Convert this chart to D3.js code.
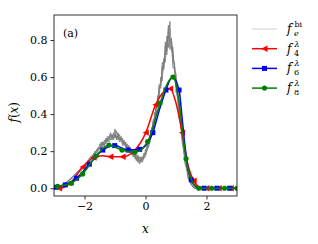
<!DOCTYPE html>
<html>
<head>
<meta charset="utf-8">
<script src="https://cdn.jsdelivr.net/npm/d3@7"></script>
<style>
  body { margin: 0; background: #fff; }
  svg text { font-family: "DejaVu Serif", "Liberation Serif", serif; fill: #000; }
</style>
</head>
<body>
<div id="chart"></div>
<script>
// gray ensemble f_e^bi
var grayX = [-3, -2.8, -2.6, -2.4, -2.2,
  -2.0, -1.95, -1.9, -1.85, -1.8, -1.75, -1.7, -1.65, -1.6, -1.55,
  -1.5, -1.45, -1.4, -1.35, -1.3, -1.25, -1.2, -1.15, -1.1, -1.05,
  -1.0, -0.95, -0.9, -0.85, -0.8, -0.75, -0.7, -0.65, -0.6, -0.55,
  -0.5, -0.45, -0.4, -0.35, -0.3, -0.25, -0.2, -0.15, -0.1, -0.05,
  0.0, 0.05, 0.1, 0.15, 0.2, 0.25, 0.3, 0.35, 0.4, 0.45,
  0.5, 0.55, 0.6, 0.65, 0.7, 0.75, 0.8, 0.85, 0.9, 0.95,
  1.0, 1.05, 1.1, 1.15, 1.2, 1.25, 1.3, 1.35, 1.4, 1.45,
  1.5, 1.55, 1.6, 1.8, 3.0];
var gray1 = [0.0, 0.01, 0.03, 0.06, 0.09,
  0.12, 0.14, 0.13, 0.16, 0.15, 0.18, 0.17, 0.20, 0.19, 0.22,
  0.21, 0.25, 0.22, 0.26, 0.24, 0.27, 0.25, 0.29, 0.26, 0.30,
  0.27, 0.31, 0.26, 0.29, 0.25, 0.27, 0.23, 0.25, 0.21, 0.23,
  0.19, 0.21, 0.17, 0.19, 0.15, 0.18, 0.14, 0.17, 0.15, 0.19,
  0.18, 0.23, 0.22, 0.29, 0.29, 0.37, 0.37, 0.45, 0.45, 0.55,
  0.54, 0.66, 0.64, 0.77, 0.74, 0.88, 0.78, 0.81, 0.68, 0.68,
  0.55, 0.52, 0.40, 0.37, 0.27, 0.23, 0.14, 0.12, 0.06, 0.05,
  0.02, 0.01, 0.0, 0.0, 0.0];
var gray2 = [0.0, 0.012, 0.028, 0.055, 0.085,
  0.11, 0.12, 0.15, 0.14, 0.17, 0.16, 0.19, 0.18, 0.21, 0.20,
  0.24, 0.22, 0.25, 0.23, 0.27, 0.25, 0.28, 0.26, 0.29, 0.27,
  0.32, 0.26, 0.29, 0.25, 0.28, 0.24, 0.26, 0.22, 0.24, 0.20,
  0.22, 0.18, 0.20, 0.16, 0.18, 0.14, 0.17, 0.14, 0.17, 0.16,
  0.21, 0.20, 0.26, 0.25, 0.33, 0.32, 0.41, 0.40, 0.50, 0.49,
  0.60, 0.58, 0.70, 0.68, 0.82, 0.76, 0.90, 0.74, 0.76, 0.63,
  0.62, 0.50, 0.47, 0.36, 0.33, 0.22, 0.19, 0.10, 0.09, 0.04,
  0.03, 0.01, 0.0, 0.0, 0.0];
var gray3 = [0.0, 0.01, 0.032, 0.06, 0.095,
  0.13, 0.12, 0.14, 0.15, 0.15, 0.17, 0.18, 0.19, 0.20, 0.21,
  0.22, 0.23, 0.24, 0.23, 0.26, 0.26, 0.27, 0.28, 0.27, 0.29,
  0.28, 0.28, 0.27, 0.27, 0.26, 0.25, 0.24, 0.24, 0.22, 0.22,
  0.20, 0.20, 0.18, 0.18, 0.16, 0.16, 0.15, 0.16, 0.16, 0.18,
  0.19, 0.22, 0.24, 0.27, 0.30, 0.34, 0.38, 0.43, 0.47, 0.53,
  0.57, 0.63, 0.67, 0.73, 0.77, 0.82, 0.80, 0.80, 0.72, 0.66,
  0.58, 0.50, 0.43, 0.35, 0.29, 0.21, 0.16, 0.11, 0.07, 0.04,
  0.02, 0.01, 0.0, 0.0, 0.0];
var gray4 = [0.0, 0.011, 0.03, 0.058, 0.09,
  0.12, 0.13, 0.13, 0.15, 0.17, 0.16, 0.18, 0.20, 0.19, 0.22,
  0.21, 0.23, 0.25, 0.24, 0.25, 0.28, 0.27, 0.30, 0.28, 0.26,
  0.29, 0.27, 0.30, 0.26, 0.27, 0.23, 0.25, 0.23, 0.21, 0.23,
  0.19, 0.21, 0.17, 0.19, 0.15, 0.17, 0.13, 0.15, 0.14, 0.17,
  0.17, 0.21, 0.22, 0.28, 0.28, 0.36, 0.36, 0.46, 0.45, 0.56,
  0.55, 0.68, 0.65, 0.79, 0.72, 0.86, 0.75, 0.79, 0.65, 0.65,
  0.52, 0.49, 0.38, 0.35, 0.25, 0.20, 0.13, 0.10, 0.05, 0.04,
  0.02, 0.01, 0.0, 0.0, 0.0];
var grayLines = [gray1, gray2, gray3, gray4];

// f_4^lambda (red, triangles); mark = 1 where a marker is drawn
var f4X = [-3.0, -2.83, -2.45, -2.06, -1.7, -1.4, -1.15, -0.75, -0.38, 0.01, 0.33, 0.6, 0.81, 1.0, 1.2, 1.4, 1.58, 1.8, 2.0, 2.4, 2.8, 3.0];
var f4Y = [0.0, 0.0, 0.03, 0.115, 0.165, 0.175, 0.17, 0.17, 0.2, 0.30, 0.45, 0.52, 0.537, 0.46, 0.30, 0.12, 0.04, 0.005, 0.0, 0.0, 0.0, 0.0];
var f4M = [0, 1, 1, 1, 1, 0, 1, 1, 1, 1, 1, 0, 1, 0, 1, 0, 1, 0, 1, 1, 1, 0];

// f_6^lambda (blue, squares)
var f6X = [-3.0, -2.94, -2.63, -2.26, -1.84, -1.40, -1.01, -0.57, -0.19, 0.24, 0.45, 0.67, 0.88, 1.10, 1.2, 1.3, 1.4, 1.50, 1.7, 1.92, 2.34, 2.76, 3.0];
var f6Y = [0.003, 0.005, 0.018, 0.054, 0.13, 0.206, 0.23, 0.206, 0.21, 0.30, 0.42, 0.53, 0.60, 0.53, 0.38, 0.22, 0.10, 0.045, 0.005, 0.0, 0.0, 0.0, 0.0];
var f6M = [0, 1, 1, 1, 1, 1, 1, 1, 1, 1, 0, 1, 0, 1, 0, 0, 0, 1, 0, 1, 1, 1, 0];

// f_8^lambda (green, circles)
var f8X = [-3.0, -2.88, -2.44, -2.06, -1.62, -1.20, -0.77, -0.35, 0.07, 0.48, 0.7, 0.90, 1.05, 1.2, 1.33, 1.55, 1.75, 2.17, 2.59, 3.0];
var f8Y = [0.006, 0.01, 0.027, 0.077, 0.174, 0.233, 0.206, 0.194, 0.252, 0.46, 0.56, 0.6, 0.52, 0.33, 0.16, 0.03, 0.0, 0.0, 0.0, 0.0];
var f8M = [0, 1, 1, 1, 1, 1, 1, 1, 1, 1, 0, 1, 0, 0, 1, 0, 1, 1, 1, 1];

var xTicks = [-2, 0, 2];
var yTicks = [0.0, 0.2, 0.4, 0.6, 0.8];

var width = 318;
var height = 244;
var margin = {top: 15, left: 54, right: 81, bottom: 48};
var plotW = width - margin.left - margin.right;
var plotH = height - margin.top - margin.bottom;
var serif = "'DejaVu Serif', 'Liberation Serif', serif";

var svg = d3.select("#chart").append("svg").attr("width", width).attr("height", height);

var x = d3.scaleLinear().domain([-3, 3]).range([margin.left, margin.left + plotW]);
var y = d3.scaleLinear().domain([-0.042, 0.935]).range([margin.top + plotH, margin.top]);

svg.append("clipPath").attr("id", "clip")
    .append("rect")
    .attr("x", margin.left).attr("y", margin.top)
    .attr("width", plotW).attr("height", plotH);

var plot = svg.append("g").attr("clip-path", "url(#clip)");

// gray lines
grayLines.forEach(function (g) {
    var line = d3.line()
        .x(function (d, i) { return x(grayX[i]); })
        .y(function (d) { return y(d); });
    plot.append("path")
        .attr("d", line(g))
        .attr("fill", "none")
        .attr("stroke", "#7a7a7a")
        .attr("stroke-opacity", 0.85)
        .attr("stroke-width", 1);
});

var triangle = "M-3.2,0L3,-3.2L3,3.2Z";
var square = "M-2.5,-2.5L2.5,-2.5L2.5,2.5L-2.5,2.5Z";
var circle = d3.symbol().type(d3.symbolCircle).size(21)();

var series = [
    {xs: f4X, ys: f4Y, ms: f4M, color: "red", marker: triangle},
    {xs: f6X, ys: f6Y, ms: f6M, color: "blue", marker: square},
    {xs: f8X, ys: f8Y, ms: f8M, color: "green", marker: circle}
];

series.forEach(function (s) {
    var pts = s.xs.map(function (v, i) { return [v, s.ys[i], s.ms[i]]; });
    var line = d3.line()
        .curve(d3.curveMonotoneX)
        .x(function (d) { return x(d[0]); })
        .y(function (d) { return y(d[1]); });
    plot.append("path")
        .attr("d", line(pts))
        .attr("fill", "none")
        .attr("stroke", s.color)
        .attr("stroke-width", 1.5);
    plot.selectAll(null)
        .data(pts.filter(function (d) { return d[2] === 1; }))
        .enter()
        .append("path")
        .attr("d", s.marker)
        .attr("fill", s.color)
        .attr("transform", function (d) { return "translate(" + x(d[0]) + "," + y(d[1]) + ")"; });
});

// axes
var xAxis = svg.append("g")
    .attr("transform", "translate(0," + (margin.top + plotH) + ")")
    .call(d3.axisBottom(x).tickValues(xTicks).tickSize(3.5).tickPadding(3)
        .tickFormat(function (d) { return d < 0 ? "\u2212" + Math.abs(d) : d; }));
var yAxis = svg.append("g")
    .attr("transform", "translate(" + margin.left + ",0)")
    .call(d3.axisLeft(y).tickValues(yTicks).tickSize(3.5).tickPadding(3)
        .tickFormat(d3.format(".1f")));

[xAxis, yAxis].forEach(function (a) {
    a.attr("font-family", serif);
    a.select(".domain").remove();
    a.selectAll("line").attr("stroke", "#000").attr("stroke-width", 0.8);
    a.selectAll("text").attr("font-size", "11px").attr("fill", "#000");
});

svg.append("rect")
    .attr("x", margin.left).attr("y", margin.top)
    .attr("width", plotW).attr("height", plotH)
    .attr("fill", "none").attr("stroke", "#000").attr("stroke-width", 0.8);

// labels
svg.append("text")
    .attr("x", x(0)).attr("y", 233)
    .attr("text-anchor", "middle")
    .attr("font-size", "12px").attr("font-style", "italic")
    .text("x");

var yl = svg.append("text")
    .attr("transform", "translate(18," + y(0.41) + ") rotate(-90)")
    .attr("text-anchor", "middle")
    .attr("font-size", "12px");
yl.append("tspan").attr("font-style", "italic").text("f");
yl.append("tspan").text("(");
yl.append("tspan").attr("font-style", "italic").text("x");
yl.append("tspan").text(")");

svg.append("text")
    .attr("x", margin.left + 9).attr("y", margin.top + 22)
    .attr("font-size", "11px")
    .text("(a)");

// legend
var legendItems = [
    {sub: "e", sup: "bi", color: "#e6e6e6", marker: null, lw: 2},
    {sub: "4", sup: "\u03bb", color: "red", marker: triangle, lw: 1.5},
    {sub: "6", sup: "\u03bb", color: "blue", marker: square, lw: 1.5},
    {sub: "8", sup: "\u03bb", color: "green", marker: circle, lw: 1.5}
];

var legend = svg.append("g");
legendItems.forEach(function (d, i) {
    var ly = 29 + i * 19.7;
    legend.append("line")
        .attr("x1", 252).attr("x2", 277)
        .attr("y1", ly).attr("y2", ly)
        .attr("stroke", d.color).attr("stroke-width", d.lw);
    if (d.marker) {
        legend.append("path").attr("d", d.marker).attr("fill", d.color)
            .attr("transform", "translate(264.5," + ly + ")");
    }
    var t = legend.append("text").attr("x", 287).attr("y", ly + 4).attr("font-size", "12px");
    t.append("tspan").attr("font-style", "italic").text("f");
    legend.append("text").attr("x", 294).attr("y", ly + 7)
        .attr("font-size", "8px")
        .attr("font-style", d.sub === "e" ? "italic" : "normal")
        .text(d.sub);
    legend.append("text").attr("x", 294.5).attr("y", ly - 2)
        .attr("font-size", "8px")
        .attr("font-style", d.sup === "bi" ? "normal" : "italic")
        .text(d.sup);
});
</script>
</body>
</html>
